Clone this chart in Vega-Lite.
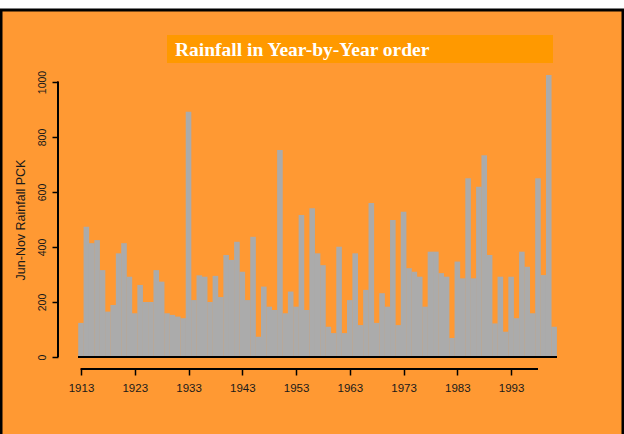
{
  "$schema": "https://vega.github.io/schema/vega-lite/v6.json",
  "width": 622,
  "height": 430,
  "autosize": {"type": "none"},
  "padding": {"left": 1, "top": 10, "right": 1, "bottom": 0},
  "background": "#ffffff",
  "title": {
    "text": "Rainfall in Year-by-Year order",
    "anchor": "start",
    "frame": "group",
    "dx": 174,
    "offset": -65,
    "baseline": "alphabetic",
    "font": "Liberation Serif",
    "fontSize": 19.5,
    "fontWeight": "bold",
    "color": "#ffffff"
  },
  "config": {
    "view": {"fill": "#FF9933", "stroke": "#000000", "strokeWidth": 3},
    "axis": {"grid": false, "domain": false, "tickColor": "#000000", "tickWidth": 1.5, "labelColor": "#1a1a1a", "labelFont": "Liberation Sans", "titleFont": "Liberation Sans", "titleColor": "#1a1a1a", "titleFontWeight": "normal"}
  },
  "data": {
    "values": [
      {"year": 1913, "rain": 124}, {"year": 1914, "rain": 474}, {"year": 1915, "rain": 414}, {"year": 1916, "rain": 425},
      {"year": 1917, "rain": 316}, {"year": 1918, "rain": 165}, {"year": 1919, "rain": 189}, {"year": 1920, "rain": 377},
      {"year": 1921, "rain": 414}, {"year": 1922, "rain": 292}, {"year": 1923, "rain": 159}, {"year": 1924, "rain": 262},
      {"year": 1925, "rain": 200}, {"year": 1926, "rain": 200}, {"year": 1927, "rain": 316}, {"year": 1928, "rain": 274},
      {"year": 1929, "rain": 159}, {"year": 1930, "rain": 153}, {"year": 1931, "rain": 147}, {"year": 1932, "rain": 141},
      {"year": 1933, "rain": 892}, {"year": 1934, "rain": 207}, {"year": 1935, "rain": 297}, {"year": 1936, "rain": 292},
      {"year": 1937, "rain": 200}, {"year": 1938, "rain": 295}, {"year": 1939, "rain": 218}, {"year": 1940, "rain": 371},
      {"year": 1941, "rain": 353}, {"year": 1942, "rain": 419}, {"year": 1943, "rain": 310}, {"year": 1944, "rain": 207},
      {"year": 1945, "rain": 437}, {"year": 1946, "rain": 74}, {"year": 1947, "rain": 256}, {"year": 1948, "rain": 183},
      {"year": 1949, "rain": 171}, {"year": 1950, "rain": 753}, {"year": 1951, "rain": 159}, {"year": 1952, "rain": 238},
      {"year": 1953, "rain": 183}, {"year": 1954, "rain": 516}, {"year": 1955, "rain": 171}, {"year": 1956, "rain": 541},
      {"year": 1957, "rain": 377}, {"year": 1958, "rain": 334}, {"year": 1959, "rain": 110}, {"year": 1960, "rain": 87},
      {"year": 1961, "rain": 401}, {"year": 1962, "rain": 87}, {"year": 1963, "rain": 207}, {"year": 1964, "rain": 377},
      {"year": 1965, "rain": 116}, {"year": 1966, "rain": 244}, {"year": 1967, "rain": 560}, {"year": 1968, "rain": 124},
      {"year": 1969, "rain": 232}, {"year": 1970, "rain": 183}, {"year": 1971, "rain": 498}, {"year": 1972, "rain": 116},
      {"year": 1973, "rain": 528}, {"year": 1974, "rain": 323}, {"year": 1975, "rain": 310}, {"year": 1976, "rain": 292},
      {"year": 1977, "rain": 183}, {"year": 1978, "rain": 383}, {"year": 1979, "rain": 383}, {"year": 1980, "rain": 305},
      {"year": 1981, "rain": 292}, {"year": 1982, "rain": 69}, {"year": 1983, "rain": 347}, {"year": 1984, "rain": 286},
      {"year": 1985, "rain": 650}, {"year": 1986, "rain": 286}, {"year": 1987, "rain": 619}, {"year": 1988, "rain": 734},
      {"year": 1989, "rain": 371}, {"year": 1990, "rain": 122}, {"year": 1991, "rain": 292}, {"year": 1992, "rain": 92},
      {"year": 1993, "rain": 292}, {"year": 1994, "rain": 141}, {"year": 1995, "rain": 383}, {"year": 1996, "rain": 328},
      {"year": 1997, "rain": 159}, {"year": 1998, "rain": 650}, {"year": 1999, "rain": 298}, {"year": 2000, "rain": 1025},
      {"year": 2001, "rain": 110}
    ]
  },
  "layer": [
    {
      "mark": {"type": "rect", "color": "#FF9900"},
      "encoding": {
        "x": {"datum": 1929.18, "type": "quantitative"},
        "x2": {"datum": 2000.79},
        "y": {"datum": 1069.1, "type": "quantitative"},
        "y2": {"datum": 1170.9}
      }
    },
    {
      "mark": {"type": "bar", "color": "#ABABAB", "width": 5.6},
      "encoding": {
        "x": {
          "field": "year",
          "type": "quantitative",
          "scale": {"domain": [1898.1204, 2013.8094], "nice": false, "zero": false, "padding": 0},
          "axis": {
            "title": null,
            "orient": "bottom",
            "offset": -71,
            "values": [1913, 1918, 1923, 1928, 1933, 1938, 1943, 1948, 1953, 1958, 1963, 1968, 1973, 1978, 1983, 1988, 1993, 1998],
            "labelExpr": "(datum.value - 1913) % 10 == 0 ? datum.value : ''",
            "tickSize": 6,
            "labelPadding": 7,
            "labelFontSize": 11.5
          }
        },
        "y": {
          "field": "rain",
          "type": "quantitative",
          "scale": {"domain": [-301.818, 1261.818], "nice": false, "zero": false, "padding": 0},
          "axis": {
            "title": "Jun-Nov Rainfall PCK",
            "orient": "left",
            "offset": -57,
            "values": [0, 200, 400, 600, 800, 1000],
            "format": "d",
            "tickSize": 6,
            "labelAngle": -90,
            "labelAlign": "center",
            "labelBaseline": "middle",
            "labelPadding": 10,
            "labelFontSize": 10.5,
            "titleFontSize": 12.5,
            "titleAngle": -90,
            "titleAlign": "center",
            "titleBaseline": "middle",
            "titleX": -38,
            "titleY": 209.5
          }
        }
      }
    },
    {
      "mark": {"type": "rule", "color": "#000000", "strokeWidth": 1.5},
      "encoding": {
        "x": {"datum": 1912.5, "type": "quantitative"},
        "x2": {"datum": 2001.5},
        "y": {"datum": 0, "type": "quantitative"}
      }
    },
    {
      "mark": {"type": "rule", "color": "#000000", "strokeWidth": 2},
      "encoding": {
        "x": {"datum": 1913, "type": "quantitative"},
        "x2": {"datum": 1998},
        "y": {"datum": -43.6, "type": "quantitative"}
      }
    },
    {
      "mark": {"type": "rule", "color": "#000000", "strokeWidth": 1},
      "encoding": {
        "x": {"datum": 1908.72, "type": "quantitative"},
        "y": {"datum": 0, "type": "quantitative"},
        "y2": {"datum": 1000}
      }
    }
  ]
}
